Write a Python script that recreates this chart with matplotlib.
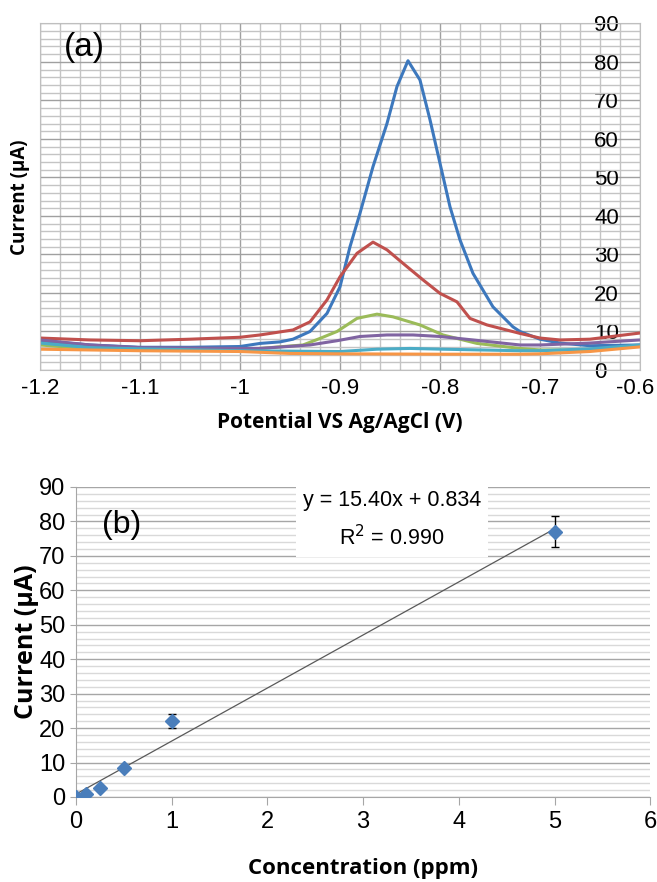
import matplotlib
matplotlib.use("Agg")
import matplotlib.pyplot as plt
import matplotlib.transforms as mtransforms
from matplotlib.ticker import MultipleLocator

# (a) voltammograms, potential (V) vs current (uA)
blue_x = [-1.2, -1.15, -1.1, -1.05, -1.0, -0.98, -0.96, -0.947, -0.93, -0.913, -0.9, -0.89, -0.88,
          -0.867, -0.853, -0.843, -0.832, -0.82, -0.81, -0.8, -0.79, -0.78, -0.767, -0.747, -0.727,
          -0.72, -0.7, -0.68, -0.65, -0.6]
blue_y = [7.6, 6.5, 5.9, 5.9, 6.1, 6.9, 7.3, 8.0, 10, 14.7, 21.6, 32, 40.7, 52.8, 64, 73.6, 80.3,
          75.3, 65, 53.7, 42.4, 33.8, 25.1, 16.4, 11.2, 10, 8, 7, 6.3, 6.5]
red_x = [-1.2, -1.15, -1.1, -1.05, -1.0, -0.98, -0.947, -0.93, -0.913, -0.9, -0.883, -0.867, -0.853,
         -0.837, -0.817, -0.8, -0.783, -0.77, -0.753, -0.72, -0.7, -0.68, -0.65, -0.6]
red_y = [8.3, 7.8, 7.6, 8.0, 8.5, 9.1, 10.4, 12.5, 18.2, 24.2, 30.3, 33.2, 31.2, 27.7, 23.4, 19.9,
         17.7, 13.4, 11.7, 9.5, 8.3, 7.8, 8.0, 9.6]
green_x = [-1.2, -1.15, -1.1, -1.0, -0.98, -0.937, -0.92, -0.903, -0.883, -0.863, -0.847, -0.82,
           -0.797, -0.763, -0.72, -0.7, -0.65, -0.6]
green_y = [6.5, 5.5, 5.3, 5.2, 5.6, 6.5, 8.2, 10, 13.4, 14.5, 13.8, 11.7, 9.1, 6.9, 5.6, 5.2, 5.2, 6.3]
purple_x = [-1.2, -1.15, -1.1, -1.0, -0.98, -0.93, -0.903, -0.88, -0.853, -0.827, -0.8, -0.767,
            -0.72, -0.7, -0.65, -0.6]
purple_y = [7.8, 6.5, 5.8, 5.6, 5.6, 6.5, 7.6, 8.7, 9.1, 9.1, 8.7, 7.8, 6.5, 6.5, 7.0, 7.8]
cyan_x = [-1.2, -1.15, -1.1, -1.0, -0.9, -0.863, -0.83, -0.797, -0.72, -0.7, -0.65, -0.6]
cyan_y = [7.0, 5.8, 5.5, 5.0, 4.8, 5.4, 5.6, 5.4, 5.0, 5.0, 5.5, 6.5]
orange_x = [-1.2, -1.1, -1.0, -0.95, -0.9, -0.8, -0.72, -0.7, -0.65, -0.6]
orange_y = [5.4, 5.0, 4.8, 4.3, 4.2, 4.1, 4.1, 4.2, 4.8, 6.0]

# (b) calibration
conc = [0, 0.1, 0.25, 0.5, 1, 5]
current = [0.1, 0.9, 2.7, 8.5, 22.0, 77.0]
current_err = [0.4, 0.4, 0.5, 0.6, 2.0, 4.5]
slope, intercept = 15.40, 0.834

fig = plt.figure(figsize=(6.57, 8.82), dpi=100)

# ---- top panel
ax1 = fig.add_axes([0.061, 0.5805, 0.913, 0.393])
curves = [(blue_x, blue_y, '#3d78bd'), (red_x, red_y, '#c0504d'), (green_x, green_y, '#9bbb59'),
          (purple_x, purple_y, '#8064a2'), (cyan_x, cyan_y, '#4bacc6'), (orange_x, orange_y, '#f79646')]
for xs, ys, c in curves:
    ax1.plot(xs, ys, color=c, lw=2.2)
ax1.set_xlim(-1.2, -0.6)
ax1.set_ylim(0, 90)
ax1.xaxis.set_major_locator(MultipleLocator(0.1))
ax1.xaxis.set_minor_locator(MultipleLocator(0.02))
ax1.yaxis.set_major_locator(MultipleLocator(10))
ax1.yaxis.set_minor_locator(MultipleLocator(2))
ax1.set_xticks([-1.2, -1.1, -1.0, -0.9, -0.8, -0.7, -0.6])
ax1.set_xticklabels(['-1.2', '-1.1', '-1', '-0.9', '-0.8', '-0.7', '-0.6'])
ax1.grid(which='major', color='#a0a0a0', lw=1)
ax1.grid(which='minor', color='#c4c4c4', lw=1)
ax1.set_axisbelow(True)
ax1.yaxis.tick_right()
ax1.tick_params(axis='y', which='both', length=0, pad=-33, labelsize=16)
for lab in ax1.get_yticklabels():
    lab.set_fontfamily('Liberation Sans')
ax1.tick_params(axis='x', which='both', length=0, pad=6, labelsize=16)
for lab in ax1.get_xticklabels():
    lab.set_fontfamily('Liberation Sans')
# nudge the last label so it stays on the canvas
last = ax1.get_xticklabels()[-1]
last.set_transform(last.get_transform() + mtransforms.ScaledTranslation(-5 / 100, 0, fig.dpi_scale_trans))
for s in ax1.spines.values():
    s.set_color('#bfbfbf')
ax1.set_xlabel('Potential VS Ag/AgCl (V)', fontsize=15, fontweight='bold', family='Open Sans', labelpad=9)
fig.text(0.03, 0.776, 'Current (µA)', rotation=90, fontsize=13.5, fontweight='bold',
         family='Open Sans', ha='center', va='center')
ax1.text(0.04, 0.93, '(a)', transform=ax1.transAxes, fontsize=24, family='Liberation Sans', va='center')

# ---- bottom panel
ax2 = fig.add_axes([0.1157, 0.0964, 0.874, 0.3515])
ax2.set_xlim(0, 6)
ax2.set_ylim(0, 90)
ax2.yaxis.set_major_locator(MultipleLocator(10))
ax2.yaxis.set_minor_locator(MultipleLocator(2))
ax2.xaxis.set_major_locator(MultipleLocator(1))
ax2.grid(axis='y', which='major', color='#a6a6a6', lw=1)
ax2.grid(axis='y', which='minor', color='#d9d9d9', lw=1)
ax2.set_axisbelow(True)
ax2.plot([0, 5], [intercept, slope * 5 + intercept], color='#595959', lw=0.9, zorder=2)
ax2.errorbar(conc, current, yerr=current_err, fmt='D', color='#4a7ebb', ms=7, ecolor='black',
             elinewidth=1, capsize=3, zorder=3)
for s in ['top', 'right']:
    ax2.spines[s].set_visible(False)
for s in ['left', 'bottom']:
    ax2.spines[s].set_color('#a6a6a6')
ax2.tick_params(axis='x', length=6, color='#a6a6a6', labelsize=17, pad=4)
ax2.tick_params(axis='y', which='major', length=4, color='#a6a6a6', labelsize=17)
ax2.tick_params(axis='y', which='minor', length=0)
for lab in ax2.get_xticklabels() + ax2.get_yticklabels():
    lab.set_fontfamily('Liberation Sans')
ax2.set_xlabel('Concentration (ppm)', fontsize=16, fontweight='bold', family='Open Sans', labelpad=18)
ax2.set_ylabel('Current (µA)', fontsize=18, fontweight='bold', family='Open Sans', labelpad=0)
ax2.text(0.27, 79, '(b)', fontsize=23, family='Liberation Sans', va='center')
ax2.text(3.3, 80.5, 'y = 15.40x + 0.834\nR$^2$ = 0.990', fontsize=15.5, family='Liberation Sans',
         ha='center', va='center', linespacing=1.7,
         bbox=dict(facecolor='white', edgecolor='none', pad=5))

fig.savefig('out.png', dpi=100)
